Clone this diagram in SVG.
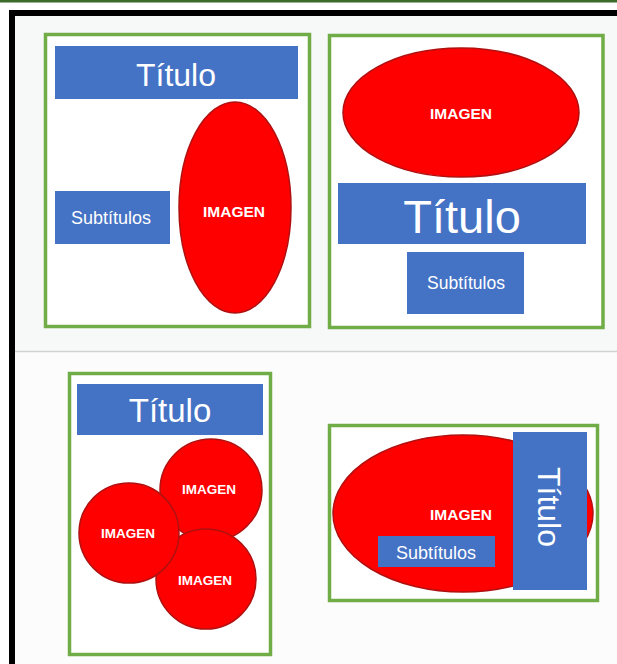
<svg xmlns="http://www.w3.org/2000/svg" width="617" height="664" viewBox="0 0 617 664">
<style>
.frame{fill:#ffffff;stroke:#70ad47;stroke-width:3.5}
.blue{fill:#4472c4}
.img{fill:#ff0000;stroke:#b01010;stroke-width:1.5}
text{font-family:"Liberation Sans",Arial,sans-serif;fill:#ffffff;text-anchor:middle}
.im{font-size:15.5px;font-weight:600}
.im2{font-size:13.5px;font-weight:600}
.sub{font-size:18px}
</style>
<rect x="0" y="0" width="617" height="664" fill="#ffffff"/>
<rect x="15" y="16" width="602" height="335" fill="#f7f9f9"/>
<rect x="15" y="352" width="602" height="312" fill="#fcfcfc"/>
<line x1="15" y1="351.5" x2="617" y2="351.5" stroke="#d2d2d2" stroke-width="1.5"/>
<rect x="0" y="0" width="617" height="2.5" fill="#3a6b2a"/>
<path d="M12 664 V13 H617" fill="none" stroke="#000" stroke-width="6"/>

<g id="panel1">
<rect class="frame" x="45.5" y="34.5" width="264" height="292"/>
<g id="p1-titulo"><rect class="blue" x="55" y="46" width="243" height="53"/><text x="176" y="86" font-size="32">Título</text></g>
<g id="p1-imagen"><ellipse class="img" cx="235" cy="207.5" rx="56" ry="105.5"/><text class="im" x="234" y="217">IMAGEN</text></g>
<g id="p1-sub"><rect class="blue" x="55" y="191" width="115" height="53"/><text class="sub" x="111" y="224">Subtítulos</text></g>
</g>

<g id="panel2">
<rect class="frame" x="329.5" y="35.5" width="273.5" height="292"/>
<g id="p2-imagen"><ellipse class="img" cx="461" cy="112.5" rx="118" ry="64.5"/><text class="im" x="461" y="119">IMAGEN</text></g>
<g id="p2-titulo"><rect class="blue" x="338" y="183" width="248" height="61"/><text x="462" y="233" font-size="47">Título</text></g>
<g id="p2-sub"><rect class="blue" x="407" y="252" width="117" height="62"/><text x="466" y="289" font-size="17.5">Subtítulos</text></g>
</g>

<g id="panel3">
<rect class="frame" x="69.5" y="373.5" width="201" height="281"/>
<g id="p3-titulo"><rect class="blue" x="77" y="384" width="186" height="51"/><text x="170" y="422" font-size="33">Título</text></g>
<g id="p3-img1"><circle class="img" cx="211" cy="490" r="51"/><text class="im2" x="209" y="494">IMAGEN</text></g>
<g id="p3-img2"><circle class="img" cx="206" cy="579" r="50"/><text class="im2" x="205" y="585">IMAGEN</text></g>
<g id="p3-img3"><circle class="img" cx="129" cy="533" r="50"/><text class="im2" x="128" y="538">IMAGEN</text></g>
</g>

<g id="panel4">
<rect class="frame" x="329.5" y="425.5" width="268" height="175"/>
<g id="p4-imagen"><ellipse class="img" cx="463" cy="513.5" rx="130" ry="78.5"/><text class="im" x="461" y="520">IMAGEN</text></g>
<g id="p4-sub"><rect class="blue" x="378" y="536" width="117" height="31"/><text class="sub" x="436" y="559">Subtítulos</text></g>
<g id="p4-titulo"><rect class="blue" x="513" y="432" width="74" height="158"/><text transform="translate(538 507) rotate(90)" x="0" y="0" font-size="32">Título</text></g>
</g>
</svg>
